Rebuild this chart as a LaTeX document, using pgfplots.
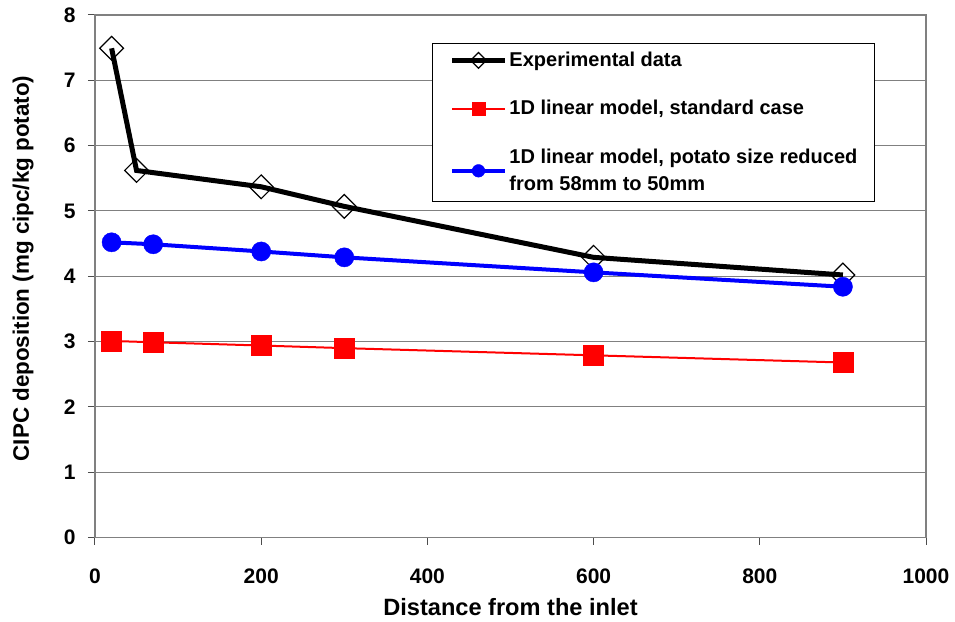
\documentclass[border=0pt]{standalone}
\usepackage{fontspec}
\setmainfont{Liberation Sans}
\usepackage{pgfplots}
\pgfplotsset{compat=1.18}
\definecolor{gridgray}{RGB}{128,128,128}
\definecolor{myred}{RGB}{255,0,0}
\definecolor{myblue}{RGB}{0,0,255}
\begin{document}
\begin{tikzpicture}
\begin{axis}[
  name=main,
  scale only axis, width=415.5pt, height=261.3pt,
  xmin=0, xmax=1000, ymin=0, ymax=8,
  xtick={0,200,...,1000}, ytick={0,1,...,8},
  axis line style={gridgray, line width=0.7pt},
  ymajorgrids, grid style={gridgray, line width=0.5pt},
  tick align=outside, tick pos=left, major tick length=3.5pt,
  tick style={black!70, line width=0.5pt},
  /pgf/number format/assume math mode=true,
  /pgf/number format/1000 sep={},
  ticklabel style={font=\bfseries\fontsize{10.5}{12}\selectfont, inner sep=0pt},
  xticklabel style={anchor=base, yshift=-19.7pt},
  yticklabel style={anchor=east, xshift=-6pt},
  xlabel={Distance from the inlet},
  ylabel={CIPC deposition (mg cipc/kg potato)},
  xlabel style={font=\bfseries\fontsize{11.8}{13}\selectfont, at={(axis description cs:0.5,0)}, anchor=base, yshift=-39pt},
  ylabel style={font=\bfseries\fontsize{11.2}{13}\selectfont, at={(axis description cs:-0.0866,0.515)}, anchor=center, rotate=0},
  legend cell align=left,
  legend style={at={(axis description cs:0,1)}, anchor=north west,
    xshift=168.5pt, yshift=-13.85pt,
    draw=black, line width=0.5pt, fill=white,
    inner xsep=8.5pt, inner ysep=4.2pt, row sep=15.5pt, column sep=1pt,
    font=\bfseries\fontsize{10}{13.5}\selectfont,
    nodes={inner sep=0pt, align=left}},
  legend image code/.code={\draw[mark repeat=2, mark phase=2, every mark/.append style={scale=0.66}] plot coordinates {(0pt,0pt)(13.25pt,0pt)(26.5pt,0pt)};},
]
\addplot[black, line width=2.5pt, mark=square, mark size=4.2pt,
  mark options={rotate=45, solid, fill=none, draw=black, line width=0.6pt}]
  coordinates {(20,7.49)(50,5.62)(200,5.37)(300,5.07)(600,4.29)(900,4.02)};
\addlegendentry{Experimental data}
\addplot[myred, line width=1pt, mark=square*, mark size=5pt,
  mark options={solid, fill=myred, draw=myred, line width=0.2pt}]
  coordinates {(20,3.01)(70,2.99)(200,2.94)(300,2.90)(600,2.79)(900,2.68)};
\addlegendentry{1D linear model, standard case}
\addplot[myblue, line width=2pt, mark=*, mark size=4.8pt,
  mark options={solid, fill=myblue, draw=myblue, line width=0.2pt}]
  coordinates {(20,4.52)(70,4.49)(200,4.38)(300,4.29)(600,4.06)(900,3.84)};
\addlegendentry{1D linear model, potato size reduced\\from 58mm to 50mm}
\end{axis}
\pgfresetboundingbox
\path ([shift={(-47.5pt,-42pt)}]main.south west) rectangle ([shift={(14.5pt,7.5pt)}]main.north east);
\end{tikzpicture}
\end{document}
